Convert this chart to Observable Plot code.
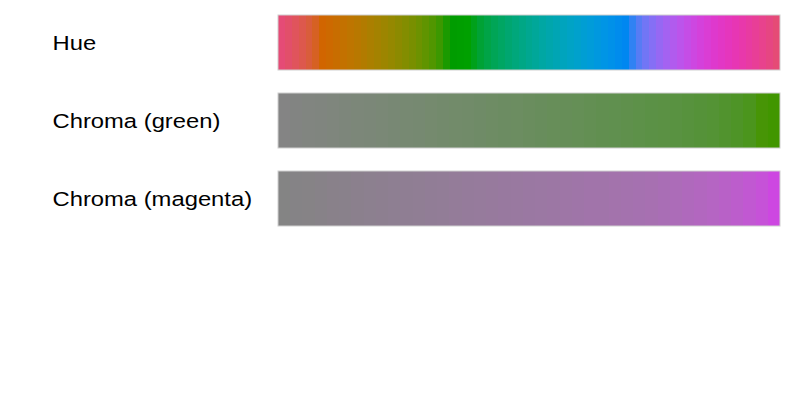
<!DOCTYPE html>
<html>
<head>
<meta charset="utf-8">
<script src="https://cdn.jsdelivr.net/npm/d3@7"></script>
<script src="https://cdn.jsdelivr.net/npm/@observablehq/plot@0.6"></script>
<style>
  html, body { margin: 0; padding: 0; background: #fff; }
  #chart { width: 800px; height: 400px; }
</style>
</head>
<body>
<div id="chart"></div>
<script>
// Row labels
const rows = ["Hue", "Chroma (green)", "Chroma (magenta)"];

// Hue sweep (degrees, polar LUV) for the first bar
const hueValues = [0, 5, 10, 15, 20, 25, 30, 35, 40, 45, 50, 55, 60, 65, 70, 75,
  80, 85, 90, 95, 100, 105, 110, 115, 120, 125, 130, 135, 140, 145, 150, 155,
  160, 165, 170, 175, 180, 185, 190, 195, 200, 205, 210, 215, 220, 225, 230, 235,
  240, 245, 250, 255, 260, 265, 270, 275, 280, 285, 290, 295, 300, 305, 310, 315,
  320, 325, 330, 335, 340, 345, 350, 355, 360];

// Chroma
const greenChroma = [0, 2, 4, 5, 7, 9, 11, 12, 14, 16, 18, 19, 21, 23, 25, 26,
  28, 30, 32, 33, 35, 37, 39, 40, 42, 44, 46, 47, 49, 51, 53, 54,
  56, 58, 60, 62, 65, 68, 71, 75, 80];

// Chroma
const magentaChroma = [0, 2, 3, 5, 7, 8, 10, 12, 13, 15, 17, 18, 20, 21, 23, 25,
  26, 28, 30, 31, 33, 34, 36, 38, 40, 42, 43, 45, 47, 49, 51, 55,
  59, 63, 67, 71, 76, 82, 88, 95, 105];

// Fixed parameters per bar
const luminance = 55;
const hueChroma = 105;
const greenHue = 120;
const magentaHue = 300;

// polar LUV (HCL) -> sRGB hex, with channel clipping
function hclLuv(h, c, l) {
  const Xn = 95.047, Yn = 100.0, Zn = 108.883;
  const un = 4 * Xn / (Xn + 15 * Yn + 3 * Zn);
  const vn = 9 * Yn / (Xn + 15 * Yn + 3 * Zn);
  const hr = h * Math.PI / 180;
  const U = c * Math.cos(hr), V = c * Math.sin(hr);
  const Y = Yn * (l > 8 ? Math.pow((l + 16) / 116, 3) : l / 903.3);
  const up = U / (13 * l) + un, vp = V / (13 * l) + vn;
  const X = 9.0 * Y * up / (4 * vp);
  const Z = -X / 3 - 5 * Y + 3 * Y / vp;
  const x = X / 100, y = Y / 100, z = Z / 100;
  const r = 3.240479 * x - 1.53715 * y - 0.498535 * z;
  const g = -0.969256 * x + 1.875992 * y + 0.041556 * z;
  const b = 0.055648 * x - 0.204043 * y + 1.057311 * z;
  const gam = v => v <= 0.0031308 ? 12.92 * v : 1.055 * Math.pow(v, 1 / 2.4) - 0.055;
  const cl = v => Math.max(0, Math.min(1, v));
  const to = v => Math.round(cl(gam(cl(v))) * 255).toString(16).padStart(2, "0");
  return "#" + to(r) + to(g) + to(b);
}

const cells = [];
function addRow(row, values, colorOf) {
  const len = values.length;
  values.forEach((v, i) => cells.push({row, x1: i / len, x2: (i + 1) / len, fill: colorOf(v)}));
}
addRow(rows[0], hueValues, h => hclLuv(h, hueChroma, luminance));
addRow(rows[1], greenChroma, c => hclLuv(greenHue, c, luminance));
addRow(rows[2], magentaChroma, c => hclLuv(magentaHue, c, luminance));

const plot = Plot.plot({
  width: 800,
  height: 400,
  marginLeft: 0,
  marginRight: 0,
  marginTop: 0,
  marginBottom: 0,
  style: {background: "#fff", fontFamily: "'Liberation Sans', Arial, sans-serif"},
  x: {domain: [0, 1], range: [278, 780], axis: null},
  y: {domain: rows, range: [15, 226], paddingInner: 23 / 78, paddingOuter: 0, axis: null},
  marks: [
    Plot.rect(cells, {
      x1: "x1",
      x2: "x2",
      y: "row",
      fill: "fill",
      inset: 0,
      shapeRendering: "crispEdges"
    }),
    Plot.rect(rows, {
      x1: () => 0,
      x2: () => 1,
      y: d => d,
      fill: "none",
      stroke: "#d0d0d0",
      strokeWidth: 1
    }),
    Plot.text(rows, {
      y: d => d,
      text: d => d,
      frameAnchor: "left",
      textAnchor: "start",
      dx: 52,
      dy: 0.5,
      fontSize: 20.5,
      fill: "#000"
    })
  ]
});

document.getElementById("chart").appendChild(plot);

// the reference lettering is slightly wider than Liberation Sans
d3.select(plot).selectAll("g[aria-label='text'] text").each(function () {
  const w = this.getComputedTextLength();
  this.setAttribute("textLength", (w * 1.16).toFixed(1));
  this.setAttribute("lengthAdjust", "spacingAndGlyphs");
});
</script>
</body>
</html>
